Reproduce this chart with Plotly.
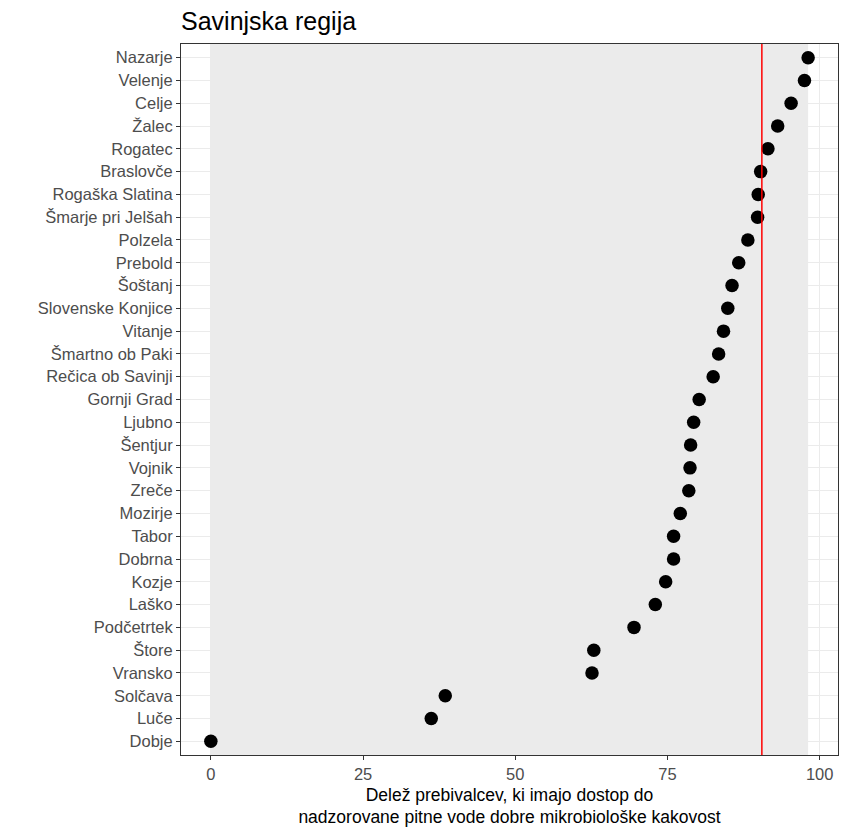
import plotly.graph_objects as go

municipalities = ["Nazarje", "Velenje", "Celje", "Žalec", "Rogatec", "Braslovče",
                  "Rogaška Slatina", "Šmarje pri Jelšah", "Polzela", "Prebold", "Šoštanj",
                  "Slovenske Konjice", "Vitanje", "Šmartno ob Paki", "Rečica ob Savinji",
                  "Gornji Grad", "Ljubno", "Šentjur", "Vojnik", "Zreče", "Mozirje", "Tabor",
                  "Dobrna", "Kozje", "Laško", "Podčetrtek", "Štore", "Vransko", "Solčava",
                  "Luče", "Dobje"]
share = [98.1, 97.5, 95.3, 93.1, 91.5, 90.3, 89.9, 89.8, 88.2, 86.7, 85.6,
         84.9, 84.2, 83.4, 82.5, 80.2, 79.3, 78.8, 78.7, 78.5, 77.1, 76.0,
         76.0, 74.7, 73.0, 69.5, 62.9, 62.6, 38.5, 36.2, 0.0]
reference_value = 90.5
x_ticks = [0, 25, 50, 75, 100]

cats = municipalities[::-1]
vals = share[::-1]

xmin, xmax = min(vals), max(vals)
pad = (xmax - xmin) * 0.05

fig = go.Figure()
fig.add_trace(go.Scatter(x=vals, y=cats, mode="markers",
                         marker=dict(color="black", size=13.5), hoverinfo="x+y"))

fig.add_shape(type="rect", xref="x", yref="paper", x0=xmin, x1=xmax, y0=0, y1=1,
              fillcolor="rgba(0,0,0,0.08)", line=dict(width=0), layer="between")
fig.add_shape(type="line", xref="x", yref="paper", x0=reference_value, x1=reference_value,
              y0=0, y1=1, line=dict(color="red", width=1.5), layer="above")

fig.update_layout(
    width=864, height=838,
    margin=dict(l=173, r=34, t=36, b=91),
    paper_bgcolor="white", plot_bgcolor="white",
    showlegend=False,
    font=dict(family="Liberation Sans, Arial, sans-serif"),
    title=dict(text="Savinjska regija", x=173/864, xanchor="left", xref="container",
               y=1 - 13/838, yanchor="middle", yref="container",
               font=dict(size=25, color="black")),
)
fig.update_xaxes(range=[xmin - pad, xmax + pad], tickvals=x_ticks,
                 ticktext=[str(t) for t in x_ticks],
                 showgrid=True, gridcolor="#EBEBEB", gridwidth=1.1,
                 minor=dict(tickvals=[12.5, 37.5, 62.5, 87.5], showgrid=True,
                            gridcolor="#EBEBEB", gridwidth=0.55, ticks=""),
                 zeroline=False, showline=True, linecolor="#333333", linewidth=1, mirror=True,
                 ticks="outside", ticklen=4, tickcolor="#333333",
                 tickfont=dict(size=16.5, color="#4D4D4D"),
                 title=dict(text="Delež prebivalcev, ki imajo dostop do<br>nadzorovane pitne vode dobre mikrobiološke kakovost",
                            font=dict(size=17.5, color="black"), standoff=6))
fig.update_yaxes(type="category", categoryorder="array", categoryarray=cats,
                 range=[-0.6, len(cats) - 0.4],
                 showgrid=True, gridcolor="#EBEBEB", gridwidth=1.1,
                 zeroline=False, showline=True, linecolor="#333333", linewidth=1, mirror=True,
                 ticks="outside", ticklen=4, tickcolor="#333333",
                 tickfont=dict(size=16.5, color="#4D4D4D"))

fig.write_html("out.html")
